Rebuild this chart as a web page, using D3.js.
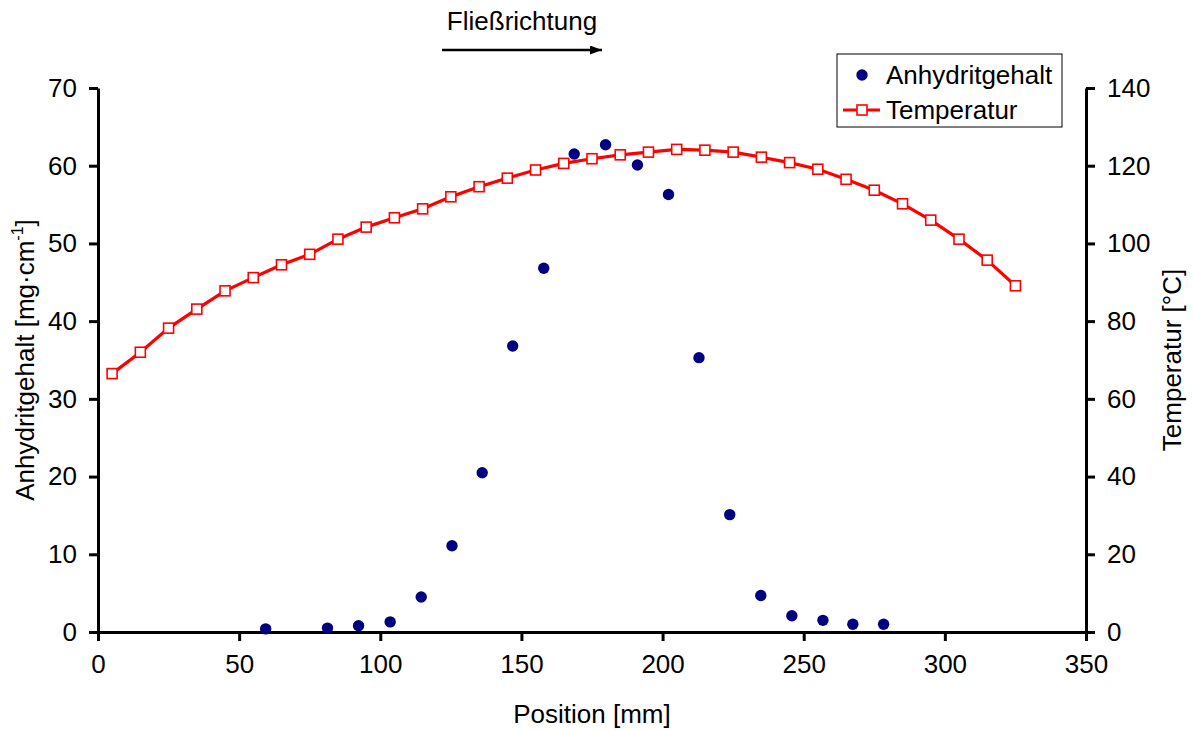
<!DOCTYPE html>
<html>
<head>
<meta charset="utf-8">
<script src="https://cdn.jsdelivr.net/npm/d3@7"></script>
<style>
  body { margin: 0; background: #fff; }
  svg { display: block; font-family: "Liberation Sans", Arial, sans-serif; }
</style>
</head>
<body>
<svg id="chart" width="1194" height="730"></svg>
<script>
// anhydrite content, position in mm / mg per cm
const anhPos = [59.4, 81.3, 92.3, 103.5, 114.5, 125.4, 136.1, 146.9, 157.9, 168.7,
                179.8, 191.1, 202.1, 212.9, 223.8, 234.8, 245.8, 256.8, 267.4, 278.3]
const anhVal = [0.4, 0.5, 0.8, 1.3, 4.5, 11.1, 20.5, 36.8, 46.8, 61.5,
                62.7, 60.1, 56.3, 35.3, 15.1, 4.7, 2.1, 1.5, 1.0, 1.0]

// temperature, position in mm / degrees C
const tempPos = [5, 15, 25, 35, 45, 55, 65, 75, 85, 95, 105, 115, 125, 135, 145, 155, 165,
                 175, 185, 195, 205, 215, 225, 235, 245, 255, 265, 275, 285, 295, 305, 315, 325]
const tempVal = [66.5, 72.0, 78.2, 83.1, 87.8, 91.2, 94.5, 97.2, 101.1, 104.2, 106.6, 108.9,
                 112.0, 114.6, 116.8, 118.9, 120.6, 121.8, 122.8, 123.5, 124.2, 124.0, 123.5,
                 122.2, 120.8, 119.1, 116.5, 113.7, 110.2, 106.0, 101.1, 95.7, 89.1]

const xTicks = [0, 50, 100, 150, 200, 250, 300, 350]
const yLeftTicks = [0, 10, 20, 30, 40, 50, 60, 70]
const yRightTicks = [0, 20, 40, 60, 80, 100, 120, 140]

const svg = d3.select("#chart")
// plot box in pixels
const plotL = 98, plotR = 1086, plotT = 88, plotB = 632
const fs = 26

const x = d3.scaleLinear().domain([0, 350]).range([plotL, plotR])
const yL = d3.scaleLinear().domain([0, 70]).range([plotB, plotT])
const yR = d3.scaleLinear().domain([0, 140]).range([plotB, plotT])

// axes
function styleAxis(g){
    g.selectAll("path").attr("stroke", "#000").attr("stroke-width", 3)
    g.selectAll("line").attr("stroke", "#000").attr("stroke-width", 3)
    g.selectAll("text").attr("font-size", fs).attr("font-family", "Liberation Sans, Arial, sans-serif").attr("fill", "#000")
}

svg.append("g")
    .attr("transform", `translate(0,${plotB})`)
    .call(d3.axisBottom(x).tickValues(xTicks).tickSize(9).tickSizeOuter(0).tickPadding(14))
    .call(styleAxis)

svg.append("g")
    .attr("transform", `translate(${plotL},0)`)
    .call(d3.axisLeft(yL).tickValues(yLeftTicks).tickSize(9).tickSizeOuter(0).tickPadding(12))
    .call(styleAxis)

svg.append("g")
    .attr("transform", `translate(${plotR},0)`)
    .call(d3.axisRight(yR).tickValues(yRightTicks).tickSize(9).tickSizeOuter(0).tickPadding(12))
    .call(styleAxis)

// axis titles
svg.append("text")
    .attr("x", (plotL + plotR) / 2).attr("y", 723)
    .attr("text-anchor", "middle").attr("font-size", fs)
    .text("Position [mm]")

let yt = svg.append("text")
    .attr("transform", `translate(34,${(plotT + plotB) / 2}) rotate(-90)`)
    .attr("text-anchor", "middle").attr("font-size", fs)
yt.append("tspan").text("Anhydritgehalt [mg·cm")
yt.append("tspan").attr("font-size", 16).attr("dy", -11).text("-1")
yt.append("tspan").attr("dy", 11).text("]")

svg.append("text")
    .attr("transform", `translate(1181,${(plotT + plotB) / 2}) rotate(-90)`)
    .attr("text-anchor", "middle").attr("font-size", fs)
    .text("Temperatur [°C]")

// temperature line with square markers
const line = d3.line()
    .x((d, i) => x(tempPos[i]))
    .y(d => yR(d))

svg.append("path")
    .datum(tempVal)
    .attr("d", line)
    .attr("fill", "none")
    .attr("stroke", "#ff0000")
    .attr("stroke-width", 3.2)

svg.selectAll("rect.temp")
    .data(tempVal)
    .enter().append("rect")
        .attr("class", "temp")
        .attr("x", (d, i) => x(tempPos[i]) - 5)
        .attr("y", d => yR(d) - 5)
        .attr("width", 10).attr("height", 10)
        .attr("fill", "#fff")
        .attr("stroke", "#ff0000")
        .attr("stroke-width", 1.6)

// anhydrite dots
svg.selectAll("circle.anh")
    .data(anhVal)
    .enter().append("circle")
        .attr("class", "anh")
        .attr("cx", (d, i) => x(anhPos[i]))
        .attr("cy", d => yL(d))
        .attr("r", 5.7)
        .attr("fill", "#000080")

// flow direction annotation
svg.append("defs").append("marker")
    .attr("id", "arrow")
    .attr("viewBox", "0 0 12 9")
    .attr("refX", 12).attr("refY", 4.5)
    .attr("markerWidth", 12).attr("markerHeight", 9)
    .attr("markerUnits", "userSpaceOnUse")
    .attr("orient", "auto")
  .append("path")
    .attr("d", "M0,0 L12,4.5 L0,9 Z")
    .attr("fill", "#000")

svg.append("line")
    .attr("x1", 442).attr("x2", 602)
    .attr("y1", 50).attr("y2", 50)
    .attr("stroke", "#000").attr("stroke-width", 2.6)
    .attr("marker-end", "url(#arrow)")

svg.append("text")
    .attr("x", 522).attr("y", 30)
    .attr("text-anchor", "middle").attr("font-size", fs)
    .text("Fließrichtung")

// legend
const lg = svg.append("g")
lg.append("rect")
    .attr("x", 837).attr("y", 54)
    .attr("width", 225).attr("height", 73)
    .attr("fill", "#fff").attr("stroke", "#000").attr("stroke-width", 1)

lg.append("circle").attr("cx", 862).attr("cy", 75).attr("r", 5.7).attr("fill", "#000080")
lg.append("text").attr("x", 886).attr("y", 84).attr("font-size", fs).text("Anhydritgehalt")

lg.append("line").attr("x1", 843).attr("x2", 880).attr("y1", 110).attr("y2", 110)
    .attr("stroke", "#ff0000").attr("stroke-width", 3.2)
lg.append("rect").attr("x", 857).attr("y", 105).attr("width", 10).attr("height", 10)
    .attr("fill", "#fff").attr("stroke", "#ff0000").attr("stroke-width", 1.6)
lg.append("text").attr("x", 886).attr("y", 119).attr("font-size", fs).text("Temperatur")
</script>
</body>
</html>
